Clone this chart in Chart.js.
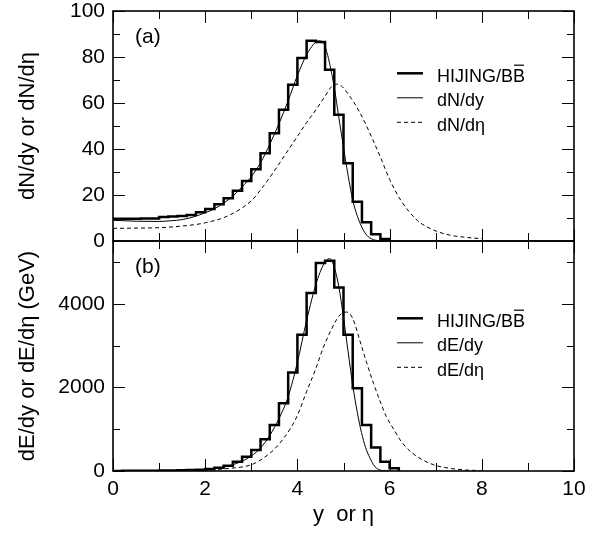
<!DOCTYPE html>
<html><head><meta charset="utf-8">
<script src="https://cdn.jsdelivr.net/npm/chart.js@4.4.1/dist/chart.umd.min.js"></script>
<style>
html,body{margin:0;padding:0;background:#fff;}
#wrap{position:relative;width:603px;height:533px;overflow:hidden;background:#fff;}
canvas{position:absolute;left:0;}
#ca{top:0;}
#cb{top:230px;}
</style></head><body>
<div id="wrap">
<canvas id="ca" width="603" height="262"></canvas>
<canvas id="cb" width="603" height="303"></canvas>
</div>
<script>
// ---------------- data ----------------
const xTickLabels = ['0','2','4','6','8','10'];
const yTicksN = [0,20,40,60,80,100];
const yTicksE = [0,2000,4000];

// panel (a): HIJING/BB histogram (bin edges, bin contents)
const binEdgesN = [0.0,0.2,0.4,0.6,0.8,1.0,1.2,1.4,1.6,1.8,2.0,2.2,2.4,2.6,2.8,3.0,3.2,3.4,3.6,3.8,4.0,4.2,4.4,4.6,4.8,5.0,5.2,5.4,5.6,5.8,6.0];
const hijingN = [9.7,9.7,9.7,9.8,9.8,10.4,10.6,10.9,11.3,12.5,13.9,16.0,18.6,21.8,26.1,31.2,38.2,46.9,57.1,67.9,79.6,87.1,86.5,74.5,54.9,33.8,17.1,8.1,2.9,0.9];

const dNdyX = [0,0.5,1.0,1.25,1.5,1.75,2.0,2.2,2.4,2.6,2.8,3.0,3.2,3.4,3.6,3.8,4.0,4.2,4.35,4.45,4.55,4.64,4.78,4.92,5.07,5.21,5.36,5.5,5.65,5.8,6.0];
const dNdyY = [9.0,8.6,8.5,8.8,9.3,10.5,12.3,14.0,16.5,19.5,23.5,28,34,42,51,61,72,81,85.5,87,86.5,82,69,51,32,17,7.7,2.6,0.6,0.1,0];

const dNdetaX = [0,0.5,1.0,1.5,2.0,2.5,3.0,3.25,3.5,3.75,4.0,4.2,4.4,4.6,4.75,4.85,4.95,5.15,5.35,5.5,5.8,6.0,6.25,6.6,6.95,7.3,7.65,8.0];
const dNdetaY = [5.5,5.6,5.8,6.5,7.9,11,17.5,23.5,30.5,38,45.5,51.5,57,63,67.3,68.2,67.5,62.5,56,50,36.5,26.8,17.5,9,4.8,2.6,1.6,1.0];

// panel (b)
const binEdgesE = [0.0,0.2,0.4,0.6,0.8,1.0,1.2,1.4,1.6,1.8,2.0,2.2,2.4,2.6,2.8,3.0,3.2,3.4,3.6,3.8,4.0,4.2,4.4,4.6,4.8,5.0,5.2,5.4,5.6,5.8,6.0,6.2];
const hijingE = [2,3,4,5,7,9,12,16,22,32,48,75,128,224,343,503,758,1102,1621,2355,3257,4256,4974,5030,4391,3257,1980,1102,559,224,64];

const dEdyX = [0,0.5,1.0,1.5,2.0,2.4,2.6,2.8,3.0,3.2,3.4,3.6,3.8,4.0,4.2,4.42,4.6,4.7,4.8,4.9,5.0,5.1,5.21,5.3,5.39,5.48,5.57,5.65,5.72,5.85,6.0];
const dEdyY = [0,2,6,15,40,95,150,235,360,550,850,1250,1780,2600,3600,4530,5000,5080,4870,4400,3670,2850,1980,1400,920,560,320,150,64,10,0];

const dEdetaX = [0,1.0,1.5,2.0,2.5,3.0,3.25,3.5,3.7,3.85,4.0,4.2,4.4,4.56,4.7,4.85,4.95,5.07,5.2,5.36,5.5,5.65,5.8,5.93,6.1,6.23,6.4,6.6,6.95,7.3,7.65,8.0];
const dEdetaY = [0,5,12,25,60,150,300,520,780,1020,1330,1900,2450,2950,3300,3620,3760,3800,3650,3100,2600,2100,1650,1300,980,742,520,343,150,65,25,8];

// ---------------- helpers ----------------
const FONT = "'Liberation Sans', Arial, Helvetica, sans-serif";
const histPoints = (edges, vals) => {
  const pts = vals.map((v, i) => ({x: edges[i], y: v}));
  pts.push({x: edges[edges.length - 1], y: 0});
  return pts;
};
const curvePoints = (xs, ys) => xs.map((x, i) => ({x, y: ys[i]}));

const frameTicks = {
  id: 'frameTicks',
  afterDatasetsDraw(chart, args, o) {
    const {ctx, chartArea: a} = chart;
    const x = chart.scales.x, y = chart.scales.y;
    ctx.save();
    ctx.strokeStyle = '#000';
    ctx.lineWidth = 1;
    const seg = (x1, y1, x2, y2) => { ctx.beginPath(); ctx.moveTo(x1, y1); ctx.lineTo(x2, y2); ctx.stroke(); };
    const isMul = (v, m) => Math.abs(v / m - Math.round(v / m)) < 1e-6;
    for (let k = 0; k * o.xMinor <= x.max + 1e-9; k++) {
      const v = x.min + k * o.xMinor;
      const px = Math.round(x.getPixelForValue(v)) + 0.5;
      const L = isMul(v, o.xMajor) ? 12 : 8;
      seg(px, a.bottom, px, a.bottom - L);
      seg(px, a.top, px, a.top + L);
    }
    for (let k = 0; k * o.yMinor <= y.max + 1e-9; k++) {
      const v = y.min + k * o.yMinor;
      const py = Math.round(y.getPixelForValue(v)) + 0.5;
      const L = isMul(v, o.yMajor) ? 12 : 7;
      seg(a.left, py, a.left + L, py);
      seg(a.right, py, a.right - L, py);
    }
    ctx.lineWidth = 1.6;
    ctx.strokeRect(a.left, a.top, a.right - a.left, a.bottom - a.top);
    ctx.restore();
  }
};

const panelLegend = {
  id: 'panelLegend',
  afterDraw(chart, args, o) {
    const {ctx, chartArea: a} = chart;
    ctx.save();
    ctx.fillStyle = '#000';
    ctx.strokeStyle = '#000';
    ctx.textBaseline = 'alphabetic';
    ctx.textAlign = 'left';
    ctx.font = `18px ${FONT}`;
    chart.data.datasets.forEach((ds, i) => {
      const base = a.top + o.top + i * o.gap;
      const ly = base - 8.4;
      ctx.beginPath();
      ctx.lineWidth = ds.borderWidth;
      ctx.setLineDash(ds.borderDash || []);
      ctx.moveTo(a.left + 284, ly);
      ctx.lineTo(a.left + 310, ly);
      ctx.stroke();
      ctx.setLineDash([]);
      const tx = a.left + 324;
      ctx.fillText(ds.label, tx, base);
      if (i === 0) {
        const w0 = ctx.measureText(ds.label.slice(0, -1)).width;
        const w1 = ctx.measureText(ds.label).width;
        ctx.lineWidth = 1.2;
        ctx.beginPath();
        ctx.moveTo(tx + w0 + 1, base - 16.5);
        ctx.lineTo(tx + w1 - 1, base - 16.5);
        ctx.stroke();
      }
    });
    ctx.font = `21px ${FONT}`;
    ctx.fillText(o.tag, a.left + 22, a.top + o.tagY);
    ctx.restore();
  }
};

function makeChart(id, cfg) {
  return new Chart(document.getElementById(id), {
    type: 'line',
    data: {
      datasets: [
        {label: 'HIJING/BB', data: histPoints(cfg.edges, cfg.hist), stepped: 'before', borderColor: '#000', borderWidth: 2.5, pointRadius: 0, fill: false},
        {label: cfg.labels[0], data: curvePoints(cfg.cx1, cfg.cy1), borderColor: '#000', borderWidth: 1, pointRadius: 0, cubicInterpolationMode: 'monotone', fill: false},
        {label: cfg.labels[1], data: curvePoints(cfg.cx2, cfg.cy2), borderColor: '#000', borderWidth: 1, borderDash: [4, 3], pointRadius: 0, cubicInterpolationMode: 'monotone', fill: false}
      ]
    },
    options: {
      responsive: false,
      animation: false,
      events: [],
      layout: {padding: {top: 11, right: 29, bottom: cfg.padBottom, left: 0}},
      plugins: {
        legend: {display: false},
        tooltip: {enabled: false},
        frameTicks: {xMinor: 1, xMajor: 2, yMinor: cfg.yMinor, yMajor: cfg.yStep},
        panelLegend: {top: cfg.legTop, gap: 24.5, tag: cfg.tag, tagY: 32}
      },
      scales: {
        x: {
          type: 'linear', min: 0, max: 10, display: cfg.showX,
          grid: {display: false, drawTicks: false}, border: {display: false},
          ticks: {stepSize: 2, autoSkip: false, maxRotation: 0, color: '#000', padding: 6,
                  font: {family: FONT, size: 21},
                  callback: (v) => xTickLabels[Math.round(v / 2)]},
          title: {display: true, text: 'y  or η', color: '#000', font: {family: FONT, size: 22}, padding: {top: 0, bottom: 5}},
          afterFit: (s) => { s.height = cfg.showX ? 62 : 0; s.paddingLeft = 0; s.paddingRight = 0; }
        },
        y: {
          type: 'linear', min: 0, max: cfg.yMax,
          grid: {display: false, drawTicks: false}, border: {display: false},
          ticks: {autoSkip: false, color: '#000', padding: 8, font: {family: FONT, size: 21},
                  callback: (v) => String(v)},
          afterBuildTicks: (s) => { s.ticks = cfg.yTicks.map(v => ({value: v})); },
          title: {display: true, text: cfg.yTitle, color: '#000', font: {family: FONT, size: 22}, padding: {top: 15, bottom: 0}},
          afterFit: (s) => { s.width = 113; s.paddingTop = 0; s.paddingBottom = 0; }
        }
      }
    },
    plugins: [frameTicks, panelLegend]
  });
}

makeChart('ca', {
  edges: binEdgesN, hist: hijingN,
  cx1: dNdyX, cy1: dNdyY, cx2: dNdetaX, cy2: dNdetaY,
  labels: ['dN/dy', 'dN/dη'],
  yMax: 100, yStep: 20, yMinor: 10, yTicks: yTicksN, yTitle: 'dN/dy or dN/dη',
  showX: false, padBottom: 21, legTop: 70.7, tag: '(a)'
});
makeChart('cb', {
  edges: binEdgesE, hist: hijingE,
  cx1: dEdyX, cy1: dEdyY, cx2: dEdetaX, cy2: dEdetaY,
  labels: ['dE/dy', 'dE/dη'],
  yMax: 5500, yStep: 2000, yMinor: 1000, yTicks: yTicksE, yTitle: 'dE/dy or dE/dη (GeV)',
  showX: true, padBottom: 0, legTop: 85.7, tag: '(b)'
});
</script>
</body></html>
